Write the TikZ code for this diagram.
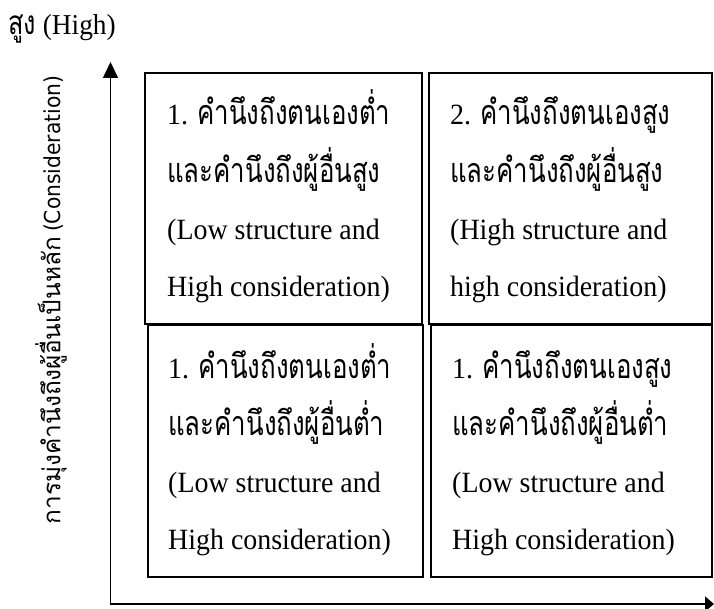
\documentclass[tikz,border=0pt]{standalone}
\usepackage{fontspec}
\setmainfont[FakeStretch=0.95]{Liberation Serif}
\newfontfamily\thaiserif[Script=Thai,FakeStretch=0.76,Scale=1.156]{Loma}
\newfontfamily\labelsans[FakeStretch=0.92]{DejaVu Sans}
\newfontfamily\thaisans[Script=Thai,Scale=1.11]{Loma}
\usetikzlibrary{arrows.meta}
\tikzset{
  quad/.style={draw, line width=1.6pt, rectangle, inner sep=0pt},
  axisline/.style={line width=1.6pt, {Triangle[length=16pt,width=15pt]}-{Triangle[length=9pt,width=15pt]}},
  boxtext/.style={anchor=base west, inner sep=0pt, font=\fontsize{29.4}{57.3}\selectfont},
}
\newcommand{\fourlines}[4]{\vtop{\baselineskip=57.3pt\lineskiplimit=-100pt\hbox{#1}\hbox{#2}\hbox{#3}\hbox{#4}}}
\begin{document}
\begin{tikzpicture}[x=1pt,y=-1pt]
\useasboundingbox (0,0) rectangle (714,609);
\node[quad, minimum width=277pt, minimum height=251pt] (tl) at (283.5,198.5) {};
\node[quad, minimum width=283pt, minimum height=251pt] (tr) at (570.5,198.5) {};
\node[quad, minimum width=275pt, minimum height=252pt] (bl) at (285.5,451) {};
\node[quad, minimum width=281pt, minimum height=252pt] (br) at (571.5,451) {};
\node[boxtext] (tltext) at (167,125) {\fourlines{1. {\thaiserif คำนึงถึงตนเองต่ำ}}{\thaiserif และคำนึงถึงผู้อื่นสูง}{(Low structure and}{High consideration)}};
\node[boxtext] (trtext) at (450,125) {\fourlines{2. {\thaiserif คำนึงถึงตนเองสูง}}{\thaiserif และคำนึงถึงผู้อื่นสูง}{(High structure and}{high consideration)}};
\node[boxtext] (bltext) at (168,378) {\fourlines{1. {\thaiserif คำนึงถึงตนเองต่ำ}}{\thaiserif และคำนึงถึงผู้อื่นต่ำ}{(Low structure and}{High consideration)}};
\node[boxtext] (brtext) at (452,378) {\fourlines{1. {\thaiserif คำนึงถึงตนเองสูง}}{\thaiserif และคำนึงถึงผู้อื่นต่ำ}{(Low structure and}{High consideration)}};
\coordinate (ytip) at (110.5,62);
\coordinate (xtip) at (714,604);
\draw[axisline] (ytip) |- (xtip);
\node[anchor=base west, inner sep=0pt, font=\fontsize{28.8}{32}\selectfont] (high) at (8,35) {{\thaiserif สูง} (High)};
\node[rotate=90, inner sep=0pt, font=\fontsize{22}{26}\selectfont] (ylabel) at (51,300) {{\thaisans การมุ่งคำนึงถึงผู้อื่นเป็นหลัก} {\labelsans (Consideration)}};
\end{tikzpicture}
\end{document}
